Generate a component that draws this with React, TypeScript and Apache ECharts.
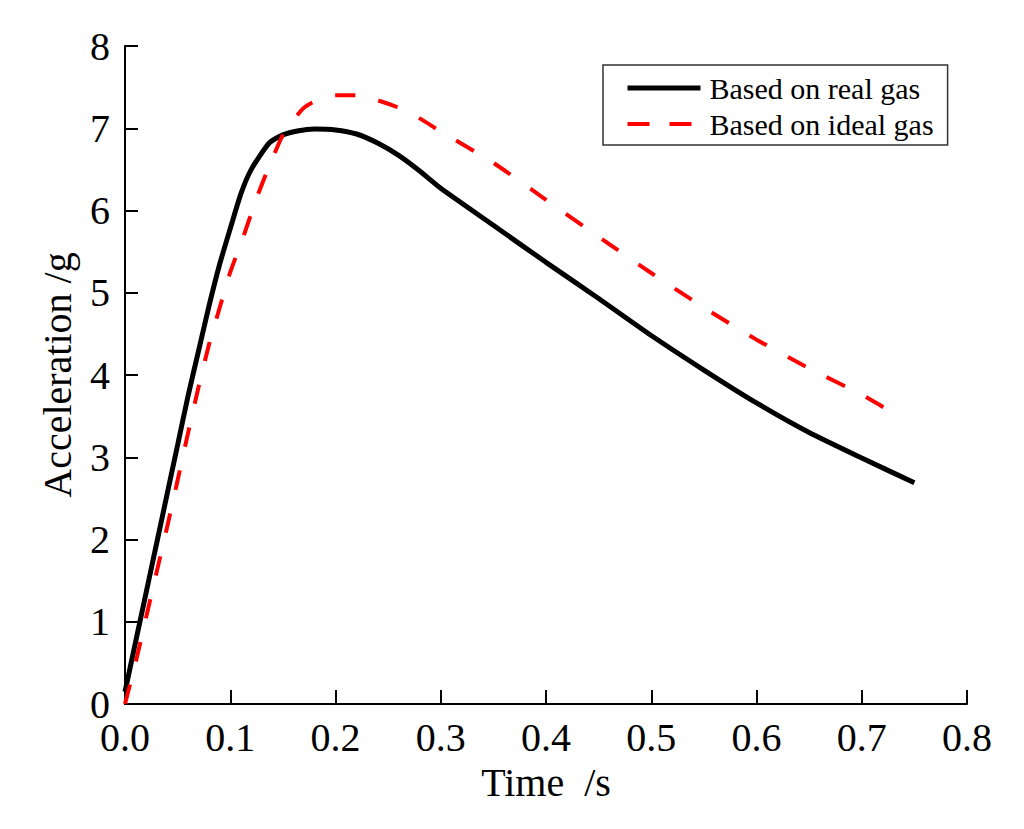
import { useEffect, useRef } from "react";
import * as echarts from "echarts";

const realTime = [0, 0.01, 0.02, 0.03, 0.04, 0.05, 0.06, 0.07, 0.08, 0.09, 0.1, 0.11, 0.12, 0.137, 0.15, 0.165, 0.18, 0.2, 0.22, 0.24, 0.26, 0.28, 0.3, 0.35, 0.4, 0.45, 0.5, 0.55, 0.6, 0.65, 0.7, 0.75];
const realAcc = [0.15, 0.75, 1.35, 1.95, 2.55, 3.15, 3.75, 4.3, 4.85, 5.35, 5.78, 6.2, 6.5, 6.82, 6.92, 6.97, 6.99, 6.98, 6.93, 6.82, 6.67, 6.48, 6.27, 5.82, 5.37, 4.93, 4.48, 4.06, 3.66, 3.3, 2.99, 2.69];

const idealTime = [0, 0.01, 0.02, 0.03, 0.04, 0.05, 0.06, 0.07, 0.08, 0.09, 0.1, 0.113, 0.125, 0.138, 0.15, 0.16, 0.17, 0.182, 0.2, 0.22, 0.24, 0.26, 0.28, 0.3, 0.35, 0.4, 0.45, 0.5, 0.55, 0.6, 0.65, 0.7, 0.735];
const idealAcc = [0, 0.5, 1.05, 1.6, 2.15, 2.72, 3.3, 3.86, 4.38, 4.82, 5.25, 5.7, 6.15, 6.57, 6.92, 7.1, 7.25, 7.34, 7.4, 7.4, 7.34, 7.25, 7.12, 6.96, 6.58, 6.13, 5.68, 5.24, 4.82, 4.43, 4.08, 3.76, 3.5];

const seriesNames = ["Based on real gas", "Based on ideal gas"];

const FONT = "Liberation Serif";

export default function App() {
  const chartRef = useRef<HTMLDivElement>(null);

  useEffect(() => {
    if (!chartRef.current) return;
    const chart = echarts.init(chartRef.current, null, { renderer: "svg" });

    const option: echarts.EChartsOption = {
      animation: false,
      backgroundColor: "#ffffff",
      grid: { left: 125, right: 57, top: 46, bottom: 125 },
      legend: {
        orient: "vertical",
        left: 603,
        top: 65,
        padding: [8, 14, 6, 22],
        itemWidth: 73,
        itemHeight: 14,
        itemGap: 6,
        borderColor: "#333",
        borderWidth: 1.5,
        data: [
          {
            name: seriesNames[0],
            itemStyle: { opacity: 0 },
            lineStyle: { width: 5, color: "#000" },
          },
          {
            name: seriesNames[1],
            itemStyle: { opacity: 0 },
            lineStyle: { width: 4, color: "#ff0000", type: [22, 20] },
          },
        ],
        textStyle: { fontFamily: FONT, fontSize: 30, color: "#000", padding: [0, 0, 0, 4] },
      },
      xAxis: {
        type: "value",
        min: 0,
        max: 0.8,
        interval: 0.1,
        name: "Time  /s",
        nameLocation: "middle",
        nameGap: 58,
        nameTextStyle: { fontFamily: FONT, fontSize: 40, color: "#000" },
        axisLine: { lineStyle: { color: "#000", width: 2 } },
        axisTick: { inside: true, length: 14, lineStyle: { color: "#000", width: 2 } },
        axisLabel: {
          fontFamily: FONT,
          fontSize: 40,
          lineHeight: 30,
          color: "#000",
          margin: 18,
          formatter: (v: number) => v.toFixed(1),
        },
        splitLine: { show: false },
      },
      yAxis: {
        type: "value",
        min: 0,
        max: 8,
        interval: 1,
        name: "Acceleration /g",
        nameLocation: "middle",
        nameGap: 48,
        nameTextStyle: { fontFamily: FONT, fontSize: 40, color: "#000" },
        axisLine: { show: true, lineStyle: { color: "#000", width: 2 } },
        axisTick: { show: true, inside: true, length: 13, lineStyle: { color: "#000", width: 2 } },
        axisLabel: { fontFamily: FONT, fontSize: 40, lineHeight: 30, color: "#000", margin: 15 },
        splitLine: { show: false },
      },
      series: [
        {
          name: seriesNames[0],
          type: "line",
          data: realTime.map((t, i) => [t, realAcc[i]]),
          symbol: "none",
          smooth: 0.2,
          lineStyle: { color: "#000", width: 5 },
          itemStyle: { color: "#000" },
        },
        {
          name: seriesNames[1],
          type: "line",
          data: idealTime.map((t, i) => [t, idealAcc[i]]),
          symbol: "none",
          smooth: 0.2,
          lineStyle: { color: "#ff0000", width: 4, type: [20, 24] },
          itemStyle: { color: "#ff0000" },
        },
      ],
    };

    chart.setOption(option);

    return () => {
      chart.dispose();
    };
  }, []);

  return (
    <div
      ref={chartRef}
      style={{ position: "absolute", left: 0, top: 0, width: "1024px", height: "829px" }}
    />
  );
}
